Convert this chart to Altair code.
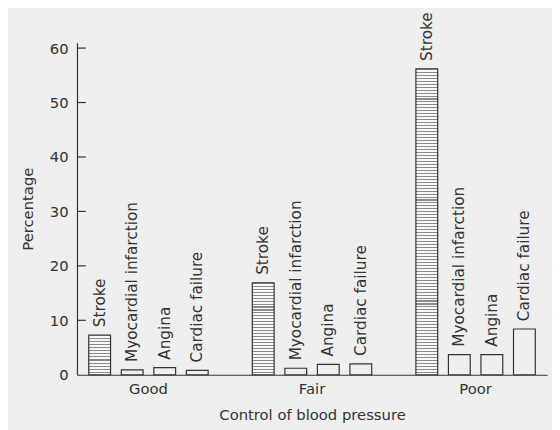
import altair as alt
import pandas as pd

# ---- data ----
groups = ["Good", "Fair", "Poor"]
diseases = ["Stroke", "Myocardial infarction", "Angina", "Cardiac failure"]
good_vals = [7.3, 0.9, 1.3, 0.8]
fair_vals = [16.9, 1.2, 1.9, 2.0]
poor_vals = [56.2, 3.7, 3.7, 8.4]
y_ticks = [0, 10, 20, 30, 40, 50, 60]

rows = []
for g, vals in zip(groups, [good_vals, fair_vals, poor_vals]):
    for d, v in zip(diseases, vals):
        rows.append({"group": g, "disease": d, "value": v})
df = pd.DataFrame(rows)
tick_df = pd.DataFrame({"tick": y_ticks[1:]})

# ---- styling ----
BG = "#efefef"
INK = "#333333"
FONT = "DejaVu Sans"
Y_MAX = 61
PLOT_W, PLOT_H = 477, 337


def stripes(n):
    """Horizontal hatching as a hard-stop linear gradient with n stripes."""
    stops = []
    for i in range(n):
        a = i / n
        b = (i + 0.35) / n
        c = (i + 1) / n
        stops += [
            alt.GradientStop(offset=a, color="#8c8c8c"),
            alt.GradientStop(offset=b, color="#8c8c8c"),
            alt.GradientStop(offset=b, color="#f7f7f7"),
            alt.GradientStop(offset=c, color="#f7f7f7"),
        ]
    return alt.Gradient(gradient="linear", stops=stops, x1=0, x2=0, y1=0, y2=1)


y_scale = alt.Scale(domain=[0, Y_MAX], nice=False, zero=True)
y_axis = alt.Axis(
    title="Percentage", values=y_ticks, tickSize=0, labelPadding=9, grid=False,
    titlePadding=14,
)
x_enc = alt.X(
    "group:N",
    sort=groups,
    scale=alt.Scale(domain=groups, paddingInner=0.27, paddingOuter=0.072),
    axis=alt.Axis(title="Control of blood pressure", labelAngle=0, tickSize=0,
                  labelPadding=7, titlePadding=11),
)
xo_enc = alt.XOffset(
    "disease:N", sort=diseases,
    scale=alt.Scale(domain=diseases, paddingInner=0.33, paddingOuter=0),
)
y_enc = alt.Y("value:Q", scale=y_scale, axis=y_axis)

base = alt.Chart(df)

plain = base.transform_filter(alt.datum.disease != "Stroke").mark_bar(
    fill=BG, stroke=INK, strokeWidth=1.2
).encode(x=x_enc, xOffset=xo_enc, y=y_enc)

layers = [plain]
for g, vals in zip(groups, [good_vals, fair_vals, poor_vals]):
    px_h = vals[0] / Y_MAX * PLOT_H
    n = max(1, round(px_h / 3.0))
    layers.append(
        base.transform_filter(
            (alt.datum.group == g) & (alt.datum.disease == "Stroke")
        ).mark_bar(fill=stripes(n), stroke=INK, strokeWidth=1.2)
        .encode(x=x_enc, xOffset=xo_enc, y=y_enc)
    )

labels = base.mark_text(
    angle=270, align="left", baseline="middle", dx=8,
    font=FONT, fontSize=15.5, color=INK,
).encode(x=x_enc, xOffset=xo_enc, y=y_enc, text="disease:N")
layers.append(labels)

ticks = alt.Chart(tick_df).mark_rule(color=INK, strokeWidth=1.2).encode(
    y=alt.Y("tick:Q", scale=y_scale, axis=y_axis),
    x=alt.value(0), x2=alt.value(9),
)
layers.append(ticks)

chart = alt.layer(*layers).properties(
    width=PLOT_W, height=PLOT_H,
    autosize=alt.AutoSizeParams(type="none"),
    padding={"left": 70, "top": 32, "right": 5, "bottom": 60},
    background=BG,
).configure_view(strokeWidth=0).configure_axis(
    domainColor=INK, domainWidth=1.2,
    labelFont=FONT, labelFontSize=15, labelColor=INK,
    titleFont=FONT, titleFontSize=15, titleColor=INK, titleFontWeight="normal",
)

chart.save("out.html", embed_options={"renderer": "svg", "actions": False})
